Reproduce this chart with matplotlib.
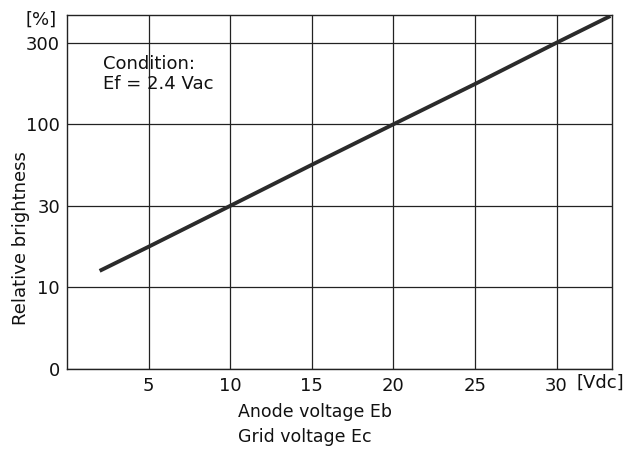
import numpy as np
import matplotlib
matplotlib.use("Agg")
import matplotlib.pyplot as plt

# Data
x_volt = [2, 5, 10, 15, 20, 25, 30, 33.3]
brightness = [12.5, 17.3, 30, 55, 100, 172, 300, 445]

y_ticks = [0, 10, 30, 100, 300]
y_tick_labels = ["0", "10", "30", "100", "300"]
x_ticks = [5, 10, 15, 20, 25, 30]
x_tick_labels = ["5", "10", "15", "20", "25", "30"]

# Piecewise log scale with equally spaced ticks (as in the datasheet)
_vals = np.log10([10, 30, 100, 300, 1000])
_pos = np.array([1, 2, 3, 4, 5], float)

def fwd(v):
    v = np.asarray(v, float)
    lv = np.log10(np.clip(v, 10, None))
    return np.where(v < 10, v / 10.0, np.interp(lv, _vals, _pos))

def inv(p):
    p = np.asarray(p, float)
    return np.where(p < 1, p * 10.0, 10 ** np.interp(p, _pos, _vals))

plt.rcParams['font.family'] = ['DejaVu Sans']
FS = 13

fig = plt.figure(figsize=(6.4, 4.49), dpi=100)
ax = fig.add_axes([67/640, 1 - 369/449, (612-67)/640, (369-15)/449])
ax.set_yscale('function', functions=(fwd, inv))
ax.set_ylim(0, float(inv(4.34)))
ax.set_xlim(0, 33.4)

ax.set_yticks(y_ticks)
ax.set_yticklabels(y_tick_labels)
ax.set_xticks(x_ticks)
ax.set_xticklabels(x_tick_labels)
ax.yaxis.set_minor_locator(matplotlib.ticker.NullLocator())
ax.tick_params(axis='both', length=0, labelsize=FS, colors='#111')
ax.tick_params(axis='y', pad=5)
ax.tick_params(axis='x', pad=6)

ax.grid(True, color='#222', linewidth=0.9)
ax.set_axisbelow(True)
for s in ax.spines.values():
    s.set_color('#222')
    s.set_linewidth(1.0)

ax.plot(x_volt, brightness, color='#2b2b2b', linewidth=2.8, solid_capstyle='butt', clip_on=True)

fig.text(103/640, 1 - 64/449, "Condition:", fontsize=FS, ha='left', va='center', color='#111')
fig.text(103/640, 1 - 84/449, "Ef = 2.4 Vac", fontsize=FS, ha='left', va='center', color='#111')

fig.text(57/640, 1 - 20/449, "[%]", fontsize=FS, ha='right', va='center', color='#111')
fig.text(577/640, 1 - 383/449, "[Vdc]", fontsize=FS, ha='left', va='center', color='#111')
fig.text(21/640, 1 - 238/449, "Relative brightness", fontsize=FS, rotation=90,
         ha='center', va='center', color='#111')
fig.text(238/640, 1 - 412/449, "Anode voltage Eb", fontsize=12.5, ha='left', va='center', color='#111')
fig.text(238/640, 1 - 437/449, "Grid voltage Ec", fontsize=12.5, ha='left', va='center', color='#111')

fig.savefig("out.png", dpi=100, facecolor='white')
